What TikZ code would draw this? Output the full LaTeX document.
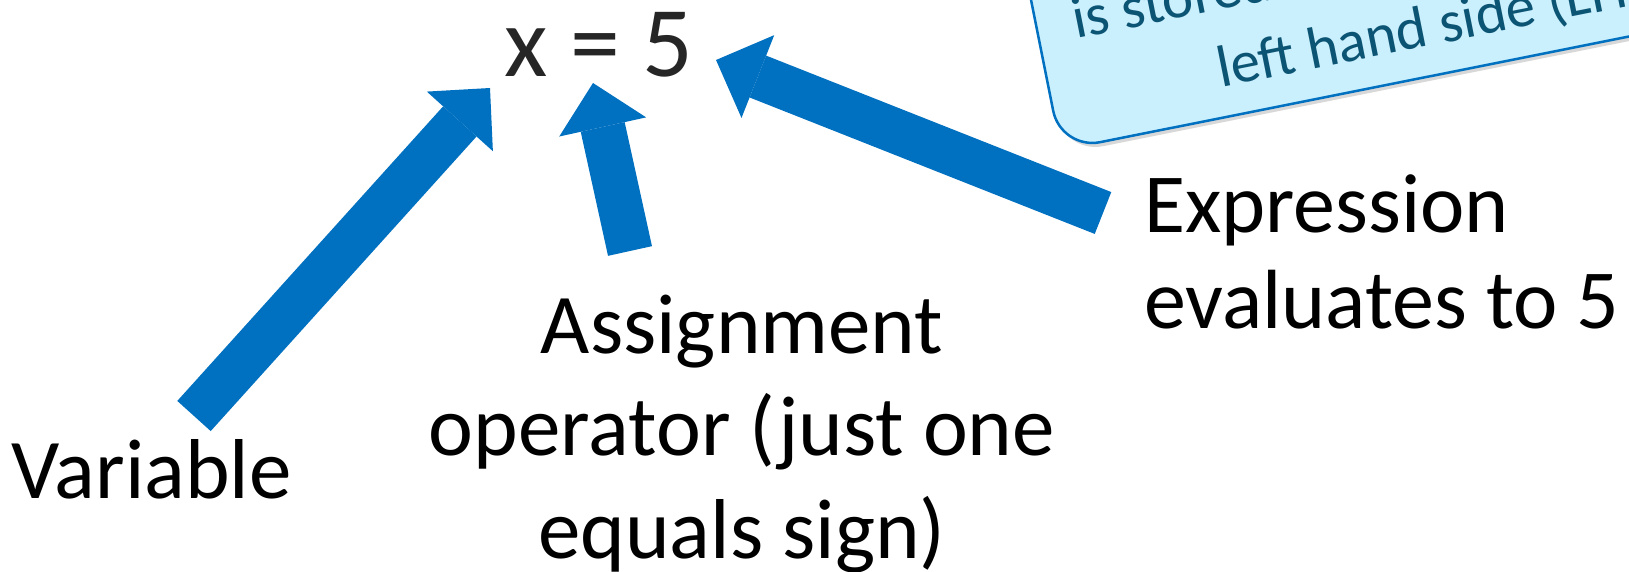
\documentclass[tikz,border=0pt]{standalone}
\usepackage{fontspec}
\setmainfont{Carlito}
\usetikzlibrary{arrows.meta,positioning,shadows}
\definecolor{arrowblue}{RGB}{0,112,192}
\definecolor{notefill}{RGB}{202,239,253}
\definecolor{notetext}{RGB}{12,84,116}
\definecolor{eqgray}{RGB}{38,38,38}

\begin{document}
\begin{tikzpicture}[x=1pt, y=1pt, >=Stealth,
  every node/.style={inner sep=0pt},
  label/.style={font=\fontsize{85}{102.5}\selectfont},
  bigarrow/.style={draw=arrowblue, line width=45pt,
    -{Triangle[length=45pt, width=89pt, line width=0pt]}}]
\clip (0,0) rectangle (1629,-572);
\fill[white] (0,0) rectangle (1629,-572);

% the note in the corner, tilted
\begin{scope}[shift={(1061,-150)}, rotate=11.3]
\draw[arrowblue, line width=2.5pt, fill=notefill, rounded corners=40pt,
  drop shadow={opacity=0.3, shadow xshift=3pt, shadow yshift=-4pt}]
  (0,0) rectangle (900,400);
\node[transform shape, anchor=base, text=notetext,
  font=\fontsize{59}{76}\selectfont]
  (noteA) at (400,106) {is stored in the variable on the};
\node[transform shape, anchor=base, text=notetext,
  font=\fontsize{59}{76}\selectfont]
  (noteB) at (400,30) {left hand side (LHS)};
\end{scope}

\node[anchor=base west, text=eqgray, font=\fontsize{100}{120}\selectfont]
  (eq) at (504,-77) {x = 5};
\node[label, anchor=base west] (var) at (11,-498) {Variable};
\node[label, anchor=base, align=center] (asg) at (742,-558)
  {Assignment\\operator (just one\\equals sign)};
\node[label, anchor=base west, align=left, font=\fontsize{84}{96}\selectfont]
  (expr) at (1144,-328) {Expression\\evaluates to 5};

\coordinate (vartail) at (194,-416);
\coordinate (vartip) at (490,-88);
\coordinate (asgtail) at (630,-251);
\coordinate (asgtip) at (593,-83);
\coordinate (exprtail) at (1103,-213);
\coordinate (exprtip) at (716,-60);

\draw[bigarrow] (vartail) -- (vartip);
\draw[bigarrow] (asgtail) -- (asgtip);
\draw[bigarrow] (exprtail) -- (exprtip);
\end{tikzpicture}
\end{document}
